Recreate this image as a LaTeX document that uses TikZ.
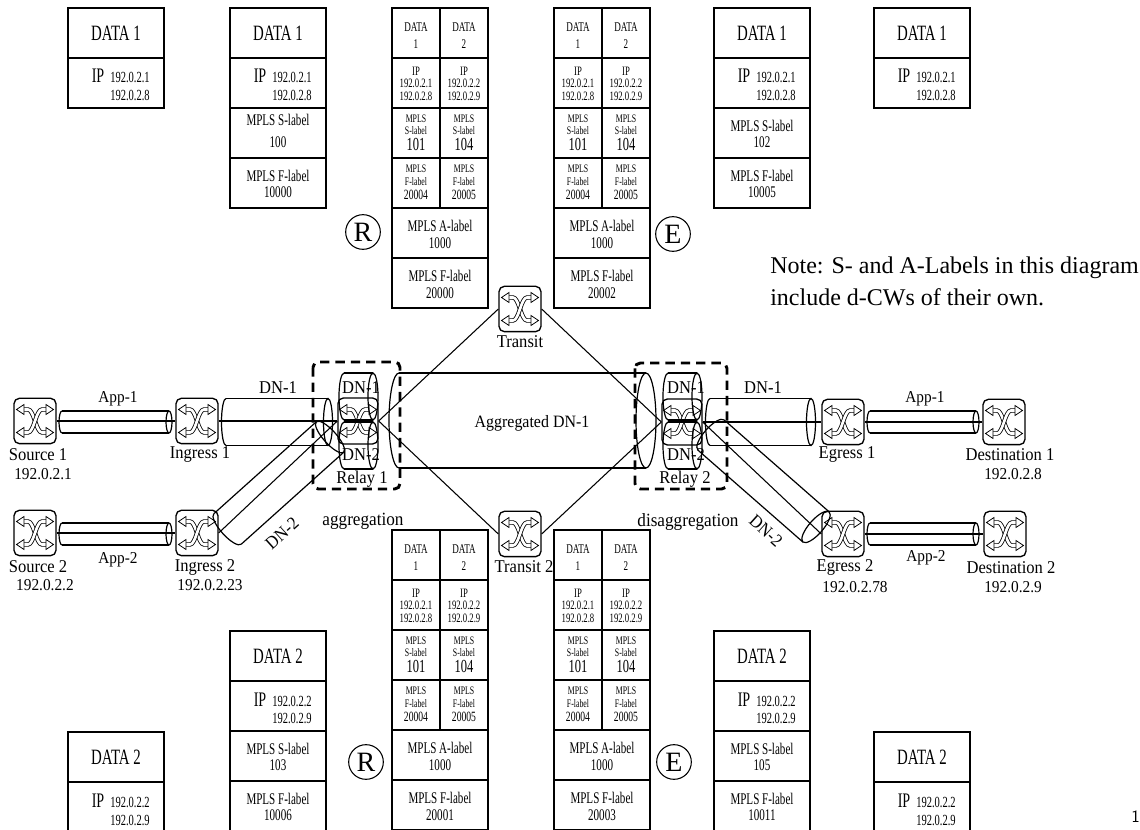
\documentclass[tikz,border=0pt]{standalone}
\usepackage{fontspec}
\setmainfont{Liberation Serif}
\newfontfamily\cf[FakeStretch=0.68]{Liberation Serif}
\newfontfamily\nf[FakeStretch=0.92]{Liberation Serif}
\newcommand\myfs[1]{\fontsize{#1}{#1}\selectfont}
\usetikzlibrary{calc}
\tikzset{
  conn/.style={line width=0.8pt},
  pipeline/.style={line width=0.9pt},
  cell/.style={line width=1pt},
  t/.style={inner sep=0pt, anchor=center},
  lbl/.style={inner sep=0pt, font=\nf\myfs{13.5}},
  routerbox/.style={draw, fill=white, line width=1pt, rounded corners=4pt, minimum width=31.5pt, minimum height=34pt, inner sep=0pt},
  relaybox/.style={routerbox, minimum width=30pt, minimum height=34.5pt},
  circ/.style={circle, draw, line width=0.8pt, minimum size=26pt, inner sep=0pt, font=\myfs{21}},
  dashbox/.style={line width=2.2pt, dash pattern=on 7pt off 4.5pt, rounded corners=4pt},
}
% router interior (local px coordinates, y down)
\newcommand\routerart{%
  \draw[sharp corners, line width=0.6pt, double=white, double distance=2pt]
    (-12,-11.5) -- (-7,-11.5) .. controls (-1,-11.5) and (1,11.5) .. (7,11.5) -- (12,11.5);
  \draw[sharp corners, line width=0.6pt, double=white, double distance=2pt]
    (12,-11.5) -- (7,-11.5) .. controls (1,-11.5) and (-1,11.5) .. (-7,11.5) -- (-12,11.5);
  \foreach \sx/\sy in {1/1,1/-1,-1/1,-1/-1}{%
    \draw[sharp corners, line width=0.6pt, fill=white]
      ({-11*(\sx)},{-11.5*(\sy)-5}) -- ({-18.5*(\sx)},{-11.5*(\sy)}) -- ({-11*(\sx)},{-11.5*(\sy)+5}) -- cycle;}%
}
\newcommand\router[3][routerbox]{%
  \node[#1] (#2) at (#3) {};
  \begin{scope}[shift={(#2.center)}]\routerart\end{scope}}
% pipe: start x, start y, angle, length, half height, cap x radius
\newcommand\pipe[6]{%
  \begin{scope}[shift={(#1,#2)}, rotate=#3]
    \draw[pipeline] (0,#5) -- (#4,#5) (0,-#5) -- (#4,-#5);
    \draw[pipeline] (#4,0) ellipse [x radius=#6, y radius=#5];
    \draw[pipeline] (0,#5) arc [start angle=90, end angle=270, x radius=#6, y radius=#5];
  \end{scope}}
% cells
\newcommand\datacell[4]{%
  \draw[cell] (#2,#3) rectangle ++(96,50);
  \node[t, font=\cf\myfs{16.4}] (#1) at (#2+48,#3+25) {#4};}
\newcommand\ipcell[5]{%
  \draw[cell] (#2,#3) rectangle ++(96,50);
  \node[t, anchor=base, font=\cf\myfs{15.5}] (#1a) at (#2+30,#3+25) {IP};
  \node[t, anchor=base, font=\cf\myfs{11.6}] (#1b) at (#2+62,#3+25) {#4};
  \node[t, anchor=base, font=\cf\myfs{11.6}] (#1c) at (#2+62,#3+43) {#5};}
\newcommand\labcell[6]{%
  \draw[cell] (#2,#3) rectangle ++(96,50);
  \node[t, font=\cf\myfs{12.2}] (#1a) at (#2+48,#3+#6) {#4};
  \node[t, font=\cf\myfs{12.2}] (#1b) at (#2+48,#3+34.5) {#5};}
\newcommand\splitbox[4]{%
  \begin{scope}[shift={(#2,#3)}]
    \draw[cell] (0,0) rectangle (96,300);
    \foreach \yy in {50,100,150,200,250} \draw[cell] (0,\yy) -- (96,\yy);
    \draw[cell] (48,0) -- (48,200);
    \node[t, font=\cf\myfs{10}] (#1da) at (24,19) {DATA};
    \node[t, font=\cf\myfs{10}] (#1na) at (24,36) {1};
    \node[t, font=\cf\myfs{10}] (#1db) at (72,19) {DATA};
    \node[t, font=\cf\myfs{10}] (#1nb) at (72,36) {2};
    \node[t, font=\cf\myfs{9.6}] (#1ia) at (24,63.5) {IP};
    \node[t, font=\cf\myfs{9.6}] (#1ja) at (24,75.5) {192.0.2.1};
    \node[t, font=\cf\myfs{9.6}] (#1ka) at (24,88.5) {192.0.2.8};
    \node[t, font=\cf\myfs{9.6}] (#1ib) at (72,63.5) {IP};
    \node[t, font=\cf\myfs{9.6}] (#1jb) at (72,75.5) {192.0.2.2};
    \node[t, font=\cf\myfs{9.6}] (#1kb) at (72,88.5) {192.0.2.9};
    \node[t, font=\cf\myfs{8.6}] (#1ma) at (24,110.5) {MPLS};
    \node[t, font=\cf\myfs{8.6}] (#1sa) at (24,123) {S-label};
    \node[t, font=\cf\myfs{13.8}] (#1va) at (24,136) {101};
    \node[t, font=\cf\myfs{8.6}] (#1mb) at (72,110.5) {MPLS};
    \node[t, font=\cf\myfs{8.6}] (#1sb) at (72,123) {S-label};
    \node[t, font=\cf\myfs{13.8}] (#1vb) at (72,136) {104};
    \node[t, font=\cf\myfs{8.6}] (#1pa) at (24,161) {MPLS};
    \node[t, font=\cf\myfs{8.6}] (#1fa) at (24,173.5) {F-label};
    \node[t, font=\cf\myfs{10.6}] (#1wa) at (24,187) {20004};
    \node[t, font=\cf\myfs{8.6}] (#1pb) at (72,161) {MPLS};
    \node[t, font=\cf\myfs{8.6}] (#1fb) at (72,173.5) {F-label};
    \node[t, font=\cf\myfs{10.6}] (#1wb) at (72,187) {20005};
    \node[t, font=\cf\myfs{12.2}] (#1al) at (48,218) {MPLS A-label};
    \node[t, font=\cf\myfs{12.2}] (#1av) at (48,235) {1000};
    \node[t, font=\cf\myfs{12.2}] (#1fl) at (48,268) {MPLS F-label};
    \node[t, font=\cf\myfs{12.2}] (#1fv) at (48,285) {#4};
  \end{scope}}

\begin{document}
\begin{tikzpicture}[x=0.75pt, y=-0.75pt]
\useasboundingbox (0,0) rectangle (1140,830);

% ---------- routers ----------
\router{src1}{35,421}
\router{ing1}{197,421}
\router{src2}{35,533}
\router{ing2}{197,533}
\router[relaybox]{rel1}{358,421}
\router{tr1}{520,309}
\router{tr2}{520,534}
\router[relaybox]{rel2}{682,422}
\router{eg1}{843,422}
\router{dst1}{1004,422}
\router{eg2}{843,534}
\router{dst2}{1005,534}

% ---------- connectors ----------
\draw[conn] (src1) -- (ing1);
\draw[conn] (ing1) -- (rel1);
\draw[conn] (src2) -- (ing2);
\draw[conn] (ing2.east) -- (rel1.west);
\draw[conn] (rel1.east) -- (tr1.west);
\draw[conn] (rel1.east) -- (tr2.west);
\draw[conn] (tr1.east) -- (rel2.west);
\draw[conn] (tr2.east) -- (rel2.west);
\draw[conn] (rel2) -- (eg1);
\draw[conn] (rel2.east) -- (eg2.west);
\draw[conn] (eg1) -- (dst1);
\draw[conn] (eg2) -- (dst2);

% ---------- pipes ----------
\pipe{62}{422}{0}{107}{11}{3}
\pipe{62}{534}{0}{107}{11}{3}
\pipe{226}{422}{0}{102}{23.5}{4.5}
\pipe{227.5}{529}{41.9}{137.7}{20.5}{6.5}
\pipe{399}{420.5}{0}{247}{47.5}{10}
\pipe{710}{422}{0}{101}{23.5}{4.5}
\pipe{711}{435}{-41.2}{139.6}{20}{7}
\pipe{870}{422}{0}{106}{11}{3}
\pipe{870}{534}{0}{106}{11}{3}
% relay cylinders
\pipe{344}{396.5}{0}{29}{23.5}{5}
\pipe{344}{445.5}{0}{29}{23.5}{5}
\pipe{668}{396.5}{0}{29}{23.5}{5}
\pipe{668}{445.5}{0}{29}{23.5}{5}

% dashed relay boxes
\draw[dashbox] (313,362) rectangle (400,489);
\draw[dashbox] (635,363) rectangle (727,489);

% ---------- network labels ----------
\node[lbl] (lsrc1) at (38,455) {Source 1};
\node[lbl, font=\nf\myfs{12.5}] (lsrc1ip) at (43,474) {192.0.2.1};
\node[lbl] (ling1) at (200,455) {Ingress 1};
\node[lbl] (lsrc2) at (38,567) {Source 2};
\node[lbl, font=\nf\myfs{12.5}] (lsrc2ip) at (45,585) {192.0.2.2};
\node[lbl] (ling2) at (205,567) {Ingress 2};
\node[lbl, font=\nf\myfs{12.5}] (ling2ip) at (210,585) {192.0.2.23};
\node[lbl, font=\nf\myfs{12.5}] (lapp1) at (118,399) {App-1};
\node[lbl, font=\nf\myfs{12.5}] (lapp2) at (118,560) {App-2};
\node[lbl] (ldn1a) at (278,388) {DN-1};
\node[lbl, rotate=42] (ldn2a) at (282,533) {DN-2};
\node[lbl] (lr1a) at (361,388) {DN-1};
\node[lbl] (lr1b) at (361,455) {DN-2};
\node[lbl] (lrel1) at (362,479) {Relay 1};
\node[lbl] (ltr1) at (520,342) {Transit};
\node[lbl] (ltr2) at (524,567) {Transit 2};
\node[lbl, font=\nf\myfs{13}] (lagg) at (532,423) {Aggregated DN-1};
\node[lbl, font=\nf\myfs{14}] (laggr) at (363,521) {aggregation};
\node[lbl, font=\nf\myfs{14}] (ldis) at (688,522) {disaggregation};
\node[lbl] (lr2a) at (686,388) {DN-1};
\node[lbl] (lr2b) at (686,455) {DN-2};
\node[lbl] (lrel2) at (685,479) {Relay 2};
\node[lbl] (ldn1b) at (763,388) {DN-1};
\node[lbl, rotate=-42] (ldn2b) at (766,531) {DN-2};
\node[lbl] (leg1) at (847,455) {Egress 1};
\node[lbl] (leg2) at (845,567) {Egress 2};
\node[lbl, font=\nf\myfs{12.5}] (leg2ip) at (855,587) {192.0.2.78};
\node[lbl, font=\nf\myfs{12.5}] (lapp1b) at (925,399) {App-1};
\node[lbl, font=\nf\myfs{12.5}] (lapp2b) at (926,558) {App-2};
\node[lbl] (ldst1) at (1010,455) {Destination 1};
\node[lbl, font=\nf\myfs{12.5}] (ldst1ip) at (1013,474) {192.0.2.8};
\node[lbl] (ldst2) at (1011,568) {Destination 2};
\node[lbl, font=\nf\myfs{12.5}] (ldst2ip) at (1013,587) {192.0.2.9};

% ---------- note ----------
\node[inner sep=0pt, anchor=base west, font=\myfs{18}] (note1) at (770,274) {Note: S- and A-Labels in this diagram};
\node[inner sep=0pt, anchor=base west, font=\myfs{18}] (note2) at (770,306) {include d-CWs of their own.};
\node[inner sep=0pt, anchor=base west, font=\sffamily\myfs{13}] (pg) at (1131,822) {1};

% ---------- circles ----------
\node[circ] (r1) at (363,232) {R};
\node[circ] (e1) at (673,234) {E};
\node[circ] (r2) at (366,762) {R};
\node[circ] (e2) at (674,762) {E};

% ---------- top boxes ----------
\datacell{a1}{68}{8}{DATA 1}
\ipcell{a2}{68}{58}{192.0.2.1}{192.0.2.8}
\datacell{b1}{230}{8}{DATA 1}
\ipcell{b2}{230}{58}{192.0.2.1}{192.0.2.8}
\labcell{b3}{230}{108}{MPLS S-label}{100}{12}
\labcell{b4}{230}{158}{MPLS F-label}{10000}{17.5}
\splitbox{c}{392}{8}{20000}
\splitbox{d}{554}{8}{20002}
\datacell{f1}{714}{8}{DATA 1}
\ipcell{f2}{714}{58}{192.0.2.1}{192.0.2.8}
\labcell{f3}{714}{108}{MPLS S-label}{102}{17.5}
\labcell{f4}{714}{158}{MPLS F-label}{10005}{17.5}
\datacell{g1}{874}{8}{DATA 1}
\ipcell{g2}{874}{58}{192.0.2.1}{192.0.2.8}

% ---------- bottom boxes ----------
\datacell{h1}{68}{732}{DATA 2}
\ipcell{h2}{68}{782}{192.0.2.2}{192.0.2.9}
\datacell{i1}{230}{631}{DATA 2}
\ipcell{i2}{230}{681}{192.0.2.2}{192.0.2.9}
\labcell{i3}{230}{731}{MPLS S-label}{103}{17.5}
\labcell{i4}{230}{781}{MPLS F-label}{10006}{17.5}
\splitbox{j}{392}{530}{20001}
\splitbox{k}{554}{530}{20003}
\datacell{l1}{714}{631}{DATA 2}
\ipcell{l2}{714}{681}{192.0.2.2}{192.0.2.9}
\labcell{l3}{714}{731}{MPLS S-label}{105}{17.5}
\labcell{l4}{714}{781}{MPLS F-label}{10011}{17.5}
\datacell{m1}{874}{732}{DATA 2}
\ipcell{m2}{874}{782}{192.0.2.2}{192.0.2.9}
\end{tikzpicture}
\end{document}
